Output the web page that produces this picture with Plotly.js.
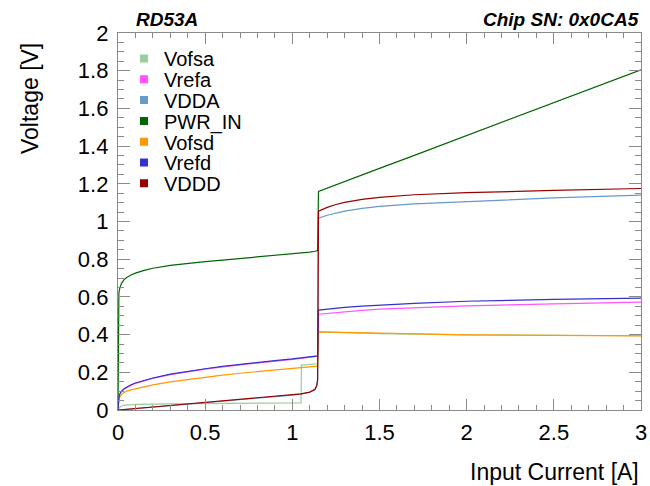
<!DOCTYPE html>
<html>
<head>
<meta charset="utf-8">
<script src="https://cdn.plot.ly/plotly-3.0.1.min.js"></script>
<style>html,body{margin:0;padding:0;background:#fff;}#plot{width:650px;height:486px;}</style>
</head>
<body>
<div id="plot"></div>
<script>
// ---- data ----
const seriesNames = ["Vofsa", "Vrefa", "VDDA", "PWR_IN", "Vofsd", "Vrefd", "VDDD"];
const seriesColors = ["#99cc99", "#ff55ff", "#6699cc", "#006600", "#ff9900", "#3333cc", "#990000"];

const xVofsa = [0, 0.005, 0.01, 0.03, 0.1, 0.3, 0.5, 0.8, 1.05, 1.052, 1.1, 1.145, 1.15, 1.3, 1.5, 2.0, 2.5, 3.0];
const yVofsa = [0, 0.01, 0.015, 0.025, 0.03, 0.033, 0.035, 0.037, 0.038, 0.238, 0.242, 0.245, 0.414, 0.41, 0.405, 0.399, 0.396, 0.394];

const xMain = [0, 0.002, 0.005, 0.01, 0.02, 0.035, 0.05, 0.075, 0.1, 0.15, 0.2, 0.3, 0.4, 0.5, 0.6, 0.7, 0.8, 0.9, 1.0, 1.05, 1.1, 1.13, 1.14, 1.145,
               1.15, 1.2, 1.25, 1.3, 1.4, 1.5, 1.7, 2.0, 2.5, 3.0];

const yPWR_IN = [0, 0.58, 0.62, 0.645, 0.672, 0.692, 0.703, 0.716, 0.726, 0.741, 0.752, 0.767, 0.778, 0.787, 0.795, 0.803, 0.811, 0.819, 0.827, 0.832, 0.838, 0.842, 0.844, 0.846,
                 1.16, 1.177, 1.195, 1.212, 1.247, 1.282, 1.351, 1.455, 1.63, 1.805];
const yVrefd  = [0, 0.04, 0.065, 0.085, 0.1, 0.113, 0.122, 0.134, 0.143, 0.158, 0.17, 0.19, 0.205, 0.219, 0.231, 0.242, 0.252, 0.262, 0.271, 0.276, 0.281, 0.284, 0.286, 0.287,
                 0.53, 0.535, 0.54, 0.544, 0.551, 0.557, 0.566, 0.577, 0.587, 0.593];
const yVrefa  = [0, 0.038, 0.063, 0.083, 0.098, 0.111, 0.12, 0.132, 0.141, 0.156, 0.168, 0.188, 0.203, 0.217, 0.229, 0.24, 0.25, 0.26, 0.269, 0.274, 0.279, 0.282, 0.284, 0.285,
                 0.508, 0.513, 0.518, 0.522, 0.529, 0.535, 0.543, 0.552, 0.563, 0.572];
const yVofsd  = [0, 0.03, 0.05, 0.068, 0.082, 0.093, 0.1, 0.107, 0.113, 0.124, 0.133, 0.149, 0.162, 0.174, 0.185, 0.195, 0.204, 0.213, 0.221, 0.225, 0.229, 0.231, 0.232, 0.233,
                 0.414, 0.413, 0.412, 0.411, 0.408, 0.406, 0.403, 0.399, 0.396, 0.393];
const yVDDD   = [0, 0.0002, 0.0004, 0.0008, 0.0016, 0.0028, 0.004, 0.006, 0.008, 0.012, 0.016, 0.024, 0.032, 0.04, 0.048, 0.056, 0.064, 0.072, 0.08, 0.086, 0.095, 0.11, 0.13, 0.16,
                 1.055, 1.075, 1.09, 1.101, 1.117, 1.128, 1.142, 1.153, 1.165, 1.175];
const yVDDA   = [0, 0.0002, 0.0004, 0.0008, 0.0015, 0.0027, 0.0038, 0.0057, 0.0076, 0.0115, 0.0153, 0.023, 0.031, 0.039, 0.047, 0.055, 0.063, 0.071, 0.079, 0.085, 0.094, 0.108, 0.128, 0.158,
                 1.017, 1.033, 1.045, 1.055, 1.07, 1.08, 1.093, 1.105, 1.125, 1.14];

const xTickVals = [0, 0.5, 1, 1.5, 2, 2.5, 3];
const yTickVals = [0, 0.2, 0.4, 0.6, 0.8, 1, 1.2, 1.4, 1.6, 1.8, 2];

const seriesX = [xVofsa, xMain, xMain, xMain, xMain, xMain, xMain];
const seriesY = [yVofsa, yVrefa, yVDDA, yPWR_IN, yVofsd, yVrefd, yVDDD];

// ---- layout geometry ----
const W = 650, H = 486, ML = 118, MR = 9, MT = 33, MB = 76;
const PW = W - ML - MR, PH = H - MT - MB;
const px2x = p => (p - ML) / PW;
const py2y = p => (H - MB - p) / PH;
const FONT = 'Liberation Sans, Arial, sans-serif';

const traces = [];
seriesNames.forEach((n, i) => {
  traces.push({
    x: seriesX[i], y: seriesY[i], type: 'scatter', mode: 'lines',
    line: {color: seriesColors[i], width: 1.2}, showlegend: false, hoverinfo: 'skip'
  });
});
const legendTop = 58.5, legendStep = 20.8;
const layoutLegends = {};
seriesNames.forEach((n, i) => {
  const key = i === 0 ? 'legend' : 'legend' + (i + 1);
  traces.push({
    x: [null], y: [null], type: 'scatter', mode: 'markers', name: n,
    marker: {symbol: 'square', size: 8, color: seriesColors[i]},
    showlegend: true, legend: key
  });
  layoutLegends[key] = {
    x: px2x(124), xanchor: 'left', y: py2y(legendTop + i * legendStep), yanchor: 'middle',
    bgcolor: 'rgba(0,0,0,0)', borderwidth: 0,
    font: {family: FONT, size: 20, color: '#000'},
    itemwidth: 30
  };
});

const axisCommon = {
  showgrid: false, zeroline: false, showline: true, mirror: 'ticks',
  linecolor: '#8a8a8a', linewidth: 1.2, ticks: 'inside', tickcolor: '#8a8a8a', tickwidth: 1.2,
  tickfont: {family: FONT, size: 22, color: '#000'}
};

const layout = Object.assign({
  width: W, height: H,
  margin: {l: ML, r: MR, t: MT, b: MB, pad: 0},
  paper_bgcolor: '#fff', plot_bgcolor: '#fff',
  font: {family: FONT, color: '#000'},
  xaxis: Object.assign({}, axisCommon, {
    range: [0, 3], tickmode: 'array', tickvals: xTickVals, ticklen: 11, ticklabelstandoff: 2,
    minor: {dtick: 0.1, ticks: 'inside', ticklen: 5, tickcolor: '#8a8a8a', tickwidth: 1}
  }),
  yaxis: Object.assign({}, axisCommon, {
    range: [0, 2], tickmode: 'array', tickvals: yTickVals, ticklen: 12, ticklabelstandoff: 4,
    minor: {dtick: 0.05, ticks: 'inside', ticklen: 6, tickcolor: '#8a8a8a', tickwidth: 1}
  }),
  annotations: [
    {text: '<b><i>RD53A</i></b>', xref: 'paper', yref: 'paper', x: px2x(134), y: py2y(20),
     xanchor: 'left', yanchor: 'middle', showarrow: false, font: {size: 19, family: FONT}},
    {text: '<b><i>Chip SN: 0x0CA5</i></b>', xref: 'paper', yref: 'paper', x: px2x(641), y: py2y(20),
     xanchor: 'right', yanchor: 'middle', showarrow: false, font: {size: 19, family: FONT}},
    {text: 'Voltage [V]', xref: 'paper', yref: 'paper', x: px2x(30), y: py2y(99), textangle: -90,
     xanchor: 'center', yanchor: 'middle', showarrow: false, font: {size: 23, family: FONT}},
    {text: 'Input Current [A]', xref: 'paper', yref: 'paper', x: px2x(641), y: py2y(472),
     xanchor: 'right', yanchor: 'middle', showarrow: false, font: {size: 23, family: FONT}}
  ]
}, layoutLegends);

Plotly.newPlot('plot', traces, layout, {staticPlot: true, displayModeBar: false});
</script>
</body>
</html>
